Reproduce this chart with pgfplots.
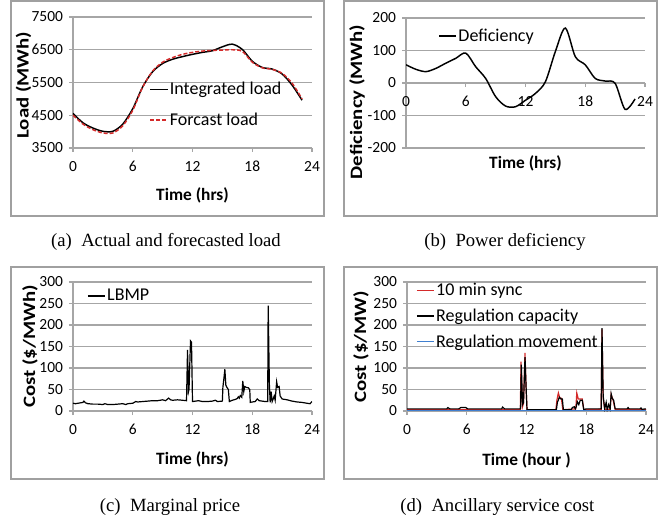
\documentclass[border=0pt]{standalone}
\usepackage{pgfplots}
\pgfplotsset{compat=1.18}
\usepackage{fontspec}
\setmainfont{Carlito}
\newfontfamily\capfont{Liberation Serif}
\definecolor{gridc}{HTML}{A6A6A6}
\definecolor{boxc}{HTML}{A0A0A0}
\definecolor{excred}{HTML}{D42A2A}
\definecolor{excblue}{HTML}{3F7FD0}
\newcommand\ylab[1]{\scalebox{1.2}[1]{#1}}
\pgfplotsset{
  panel/.style={
    scale only axis, width=179.25pt,
    xmin=0, xmax=24, xtick={0,6,12,18,24},
    axis y line*=left,
    axis line style={draw=gridc, line width=0.8pt, -},
    every inner x axis line/.append style={-},
    every inner y axis line/.append style={-},
    ymajorgrids, grid style={draw=gridc, line width=0.8pt},
    tick align=outside, major tick length=3pt,
    tick style={draw=gridc, line width=0.8pt},
    hide obscured x ticks=false, hide obscured y ticks=false,
    tick label style={font=\fontsize{11.6}{14}\selectfont},
    xticklabel style={yshift=-3.5pt},
    yticklabel style={xshift=-1pt},
    /pgf/number format/assume math mode=true,
    /pgf/number format/1000 sep={},
    xlabel style={font=\bfseries\fontsize{13}{15}\selectfont},
    ylabel style={font=\bfseries\fontsize{13}{15}\selectfont, inner sep=0pt},
    legend style={draw=none, fill=none, inner sep=0pt, font=\fontsize{13.5}{15}\selectfont, row sep=10pt, nodes={inner xsep=1pt, inner ysep=1pt}},
    legend cell align=left,
    legend image code/.code={\draw[##1] (0pt,0pt) -- (13pt,0pt);},
    every axis plot/.append style={line width=1.1pt},
  }
}
\begin{document}
\begin{tikzpicture}
\path[use as bounding box] (0,0) rectangle (497.25pt,388.5pt);
% (a)
\begin{axis}[panel, axis x line*=bottom, at={(54.75pt,277.5pt)}, anchor=south west, height=98.25pt,
  ymin=3500, ymax=7500, ytick={3500,4500,5500,6500,7500},
  xlabel={Time (hrs)}, ylabel={\ylab{Load (MWh)}},
  xlabel style={at={(axis description cs:0.5,-0.359)}, anchor=center},
  ylabel style={at={(axis description cs:-0.207,0.48)}, anchor=center},
  legend style={at={(0.32,0.33)}, anchor=west}]
\addplot[black, smooth] coordinates {(0,4554)(1,4270)(2,4110)(3,4010)(4,4010)(5,4230)(6,4700)(7,5370)(8,5830)(9,6080)(10,6210)(11,6290)(12,6360)(13,6420)(14,6470)(15,6590)(16,6670)(17,6510)(18,6150)(19,5960)(20,5910)(21,5760)(22,5420)(23,4960)};
\addlegendentry{Integrated load}
\addplot[excred, smooth, dash pattern=on 3pt off 1.5pt] coordinates {(0,4500)(1,4230)(2,4060)(3,3960)(4,3960)(5,4180)(6,4650)(7,5360)(8,5850)(9,6120)(10,6260)(11,6360)(12,6420)(13,6460)(14,6480)(15,6490)(16,6500)(17,6450)(18,6120)(19,5950)(20,5900)(21,5780)(22,5480)(23,5000)};
\addlegendentry{Forcast load}
\end{axis}
% (b)
\begin{axis}[panel, axis x line*=middle, at={(304.5pt,277.5pt)}, anchor=south west, height=97.5pt,
  ymin=-200, ymax=200, ytick={-200,-100,0,100,200},
  xlabel={Time (hrs)}, ylabel={\ylab{Deficiency (MWh)}},
  xlabel style={at={(axis description cs:0.5,-0.115)}, anchor=center},
  ylabel style={at={(axis description cs:-0.205,0.354)}, anchor=center},
  legend style={at={(0.134,0.862)}, anchor=west}]
\addplot[black, smooth] coordinates {(0,56)(1,42)(2,35)(3,45)(4,61)(5,76)(6,92)(7,50)(8,14)(9,-42)(10,-71)(11,-73)(12,-53)(13,-32)(14,4)(15,97)(16,169)(17,81)(18,56)(19,14)(20,6)(21,-1)(22,-81)(23,-49)};
\addlegendentry{Deficiency}
\end{axis}
% (c)
\begin{axis}[panel, axis x line*=bottom, at={(54.75pt,80.25pt)}, anchor=south west, height=96.75pt,
  ymin=0, ymax=300, ytick={0,50,100,150,200,250,300},
  xlabel={Time (hrs)}, ylabel={\ylab{Cost (\$/MWh)}},
  xlabel style={at={(axis description cs:0.5,-0.372)}, anchor=center},
  ylabel style={at={(axis description cs:-0.180,0.5)}, anchor=center},
  legend style={at={(0.059,0.891)}, anchor=west},
  every axis plot/.append style={line width=0.9pt}]
\addplot[black] coordinates {(0,18)(0.25,17)(0.5,18)(0.75,19)(1.0,20)(1.1,23)(1.25,19)(1.5,17)(2.0,16)(2.5,16)(3.0,15)(3.2,17)(3.5,15)(4.0,15)(4.5,16)(5.0,17)(5.3,15)(5.5,17)(6.0,18)(6.3,22)(6.5,21)(7.0,22)(7.5,23)(8.0,24)(8.5,24)(9.0,26)(9.3,24)(9.6,30)(9.8,26)(10.0,25)(10.5,26)(11.0,25)(11.4,24)(11.5,142)(11.6,45)(11.65,50)(11.8,163)(11.9,160)(12.0,22)(12.3,23)(12.6,24)(13.0,22)(13.5,22)(14.0,23)(14.3,25)(14.5,22)(15.0,23)(15.05,55)(15.15,75)(15.25,97)(15.35,60)(15.45,55)(15.6,50)(15.7,22)(16.0,25)(16.3,27)(16.5,29)(16.6,33)(16.7,30)(16.8,36)(16.95,32)(17.05,70)(17.15,45)(17.25,57)(17.4,55)(17.6,54)(17.75,50)(17.8,20)(18.0,21)(18.3,22)(18.5,28)(18.7,24)(19.0,23)(19.3,22)(19.55,22)(19.6,245)(19.72,62)(19.8,20)(19.9,45)(20.0,22)(20.1,28)(20.2,35)(20.3,25)(20.45,68)(20.55,55)(20.7,57)(20.8,35)(21.0,28)(21.5,26)(22.0,23)(22.5,21)(23.0,20)(23.5,18)(23.8,17)(24.0,22)};
\addlegendentry{LBMP}
\end{axis}
% (d)
\begin{axis}[panel, axis x line*=bottom, at={(305.25pt,80.25pt)}, anchor=south west, height=96.75pt,
  ymin=0, ymax=300, ytick={0,50,100,150,200,250,300},
  xlabel={Time (hour )}, ylabel={\ylab{Cost (\$/MW)}},
  xlabel style={at={(axis description cs:0.5,-0.38)}, anchor=center},
  ylabel style={at={(axis description cs:-0.192,0.5)}, anchor=center},
  legend style={at={(0.038,0.736)}, anchor=west, row sep=6.5pt},
  every axis plot/.append style={line width=0.9pt}]
\addplot[excred] coordinates {(0,3)(11.38,3)(11.45,115)(11.6,10)(11.7,18)(11.85,135)(11.95,60)(12.05,3)(14.95,3)(15.05,25)(15.2,42)(15.35,30)(15.5,30)(15.65,3)(16.95,5)(17.05,42)(17.2,28)(17.4,28)(17.6,28)(17.75,3)(19.5,4)(19.58,190)(19.7,30)(19.85,4)(20.4,4)(20.5,38)(20.7,25)(20.9,4)(24,3)};
\addlegendentry{10 min sync}
\addplot[black] coordinates {(0,5)(4.0,5)(4.1,8)(4.3,5)(5.2,5)(5.4,8)(5.7,8)(5.9,8)(6.1,5)(9.5,5)(9.6,9)(9.8,5)(11.4,5)(11.48,108)(11.6,15)(11.7,20)(11.85,125)(11.95,60)(12.05,3)(15.0,3)(15.1,20)(15.3,32)(15.45,28)(15.6,28)(15.7,3)(16.5,3)(16.6,8)(16.8,10)(16.9,5)(17.0,10)(17.1,22)(17.25,15)(17.4,25)(17.6,25)(17.75,3)(18.0,5)(19.5,5)(19.58,193)(19.7,35)(19.85,5)(20.0,20)(20.1,3)(20.25,15)(20.4,5)(20.5,40)(20.6,30)(20.75,25)(20.9,5)(22.1,5)(22.2,8)(22.3,5)(23.4,5)(23.5,7)(23.6,4)(24,5)};
\addlegendentry{Regulation capacity}
\addplot[excblue] coordinates {(0,1.5)(6,1.5)(12,1.5)(18,1.5)(24,1.5)};
\addlegendentry{Regulation movement}
\end{axis}
% frames
\draw[boxc, line width=0.8pt] (8.25pt,226.5pt) rectangle (243pt,387.75pt);
\draw[boxc, line width=0.8pt] (258pt,226.5pt) rectangle (492.75pt,387.75pt);
\draw[boxc, line width=0.8pt] (8.25pt,29.25pt) rectangle (243pt,188.25pt);
\draw[boxc, line width=0.8pt] (258pt,29.25pt) rectangle (492.75pt,188.25pt);
% captions
\node[font=\capfont\fontsize{14}{16}\selectfont] at (124.5pt,207pt) {(a)\ \ Actual and forecasted load};
\node[font=\capfont\fontsize{14}{16}\selectfont] at (378.75pt,207pt) {(b)\ \ Power deficiency};
\node[font=\capfont\fontsize{14}{16}\selectfont] at (127.5pt,8.25pt) {(c)\ \ Marginal price};
\node[font=\capfont\fontsize{14}{16}\selectfont] at (373pt,8.25pt) {(d)\ \ Ancillary service cost};
\end{tikzpicture}
\end{document}
